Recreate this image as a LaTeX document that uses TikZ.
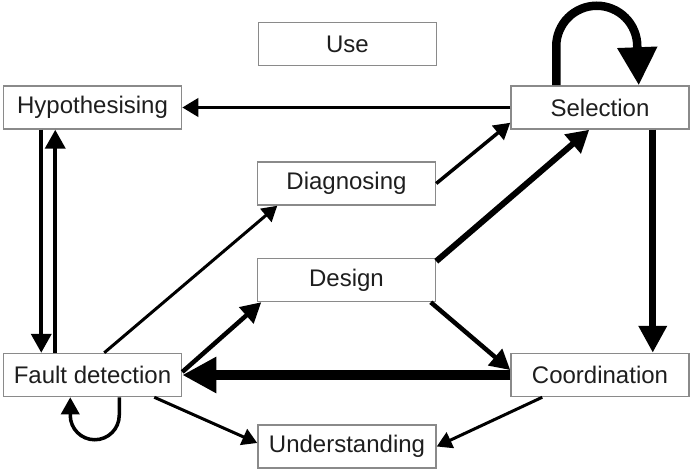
\documentclass[tikz,border=0pt]{standalone}
\usepackage{fontspec}
\setmainfont{Liberation Sans}
\usetikzlibrary{arrows.meta}
\definecolor{boxgray}{HTML}{8A8A8A}
\definecolor{txt}{HTML}{1E1E1E}
\begin{document}
\begin{tikzpicture}[x=1pt,y=-1pt,
  box/.style={draw=boxgray, line width=1.5pt, fill=white, minimum width=178pt, minimum height=43pt,
    inner sep=0pt, text=txt, font=\fontsize{24}{28}\selectfont},
  conn/.style={draw=black, line join=miter},
  ha/.style={-{Triangle[length=16pt,width=18pt]}, line width=3.5pt},
  hb/.style={-{Triangle[length=19pt,width=20pt]}, line width=4pt},
  hc/.style={-{Triangle[length=15pt,width=17pt]}, line width=3pt},
  hd/.style={-{Triangle[length=22pt,width=24pt]}, line width=6pt},
  he/.style={-{Triangle[length=20pt,width=21pt]}, line width=4.5pt},
  hf/.style={-{Triangle[length=34pt,width=34pt]}, line width=10pt},
  hg/.style={-{Triangle[length=27pt,width=27pt]}, line width=7pt},
  hh/.style={-{Triangle[length=38pt,width=38pt]}, line width=8.5pt},
]
\useasboundingbox (0,0) rectangle (693,473);

\node[box] (use)   at (347.5,44)   {Use};
\node[box] (hyp)   at (92.5,107.5) {Hypothesising};
\node[box] (sel)   at (600,107.5)  {Selection};
\node[box] (diag)  at (346.5,183.5){Diagnosing};
\node[box] (des)   at (346.5,280)  {Design};
\node[box] (fd)    at (92.5,375)   {Fault detection};
\node[box] (coord) at (600,375)    {Coordination};
\node[box] (und)   at (347,446.5)  {Understanding};

% Selection -> Hypothesising
\draw[conn,ha] (sel.west) -- (hyp.east);
% Hypothesising <-> Fault detection
\draw[conn,hb] ([xshift=38.5pt]hyp.south west) -- ([xshift=38.5pt]fd.north west);
\draw[conn,hb] ([xshift=52.5pt]fd.north west) -- ([xshift=52.5pt]hyp.south west);
% Fault detection -> Diagnosing
\draw[conn,hc] ([xshift=101.5pt]fd.north west) -- ([xshift=20.5pt]diag.south west);
% Diagnosing -> Selection
\draw[conn,ha] (diag.east) -- ([yshift=7pt]sel.south west);
% Design -> Selection
\draw[conn,hd] ([yshift=-3.5pt]des.north east) -- ([xshift=79pt]sel.south west);
% Fault detection -> Design
\draw[conn,he] ([yshift=3pt]fd.east) -- ([xshift=4.5pt]des.south west);
% Design -> Coordination
\draw[conn,he] ([xshift=-5.5pt]des.south east) -- ([yshift=5pt]coord.west);
% Coordination -> Fault detection
\draw[conn,hf] (coord.west) -- (fd.east);
% Selection -> Coordination
\draw[conn,hg] ([xshift=-37pt]sel.south east) -- ([xshift=-37pt]coord.north east);
% Selection self loop
\draw[conn,hh] ([xshift=46pt]sel.north west) -- ++(0,-39)
  arc[start angle=180,end angle=360,radius=40.5] -- ([xshift=-51pt]sel.north east);
% Fault detection self loop
\draw[conn,-{Triangle[length=17pt,width=18pt]}, line width=3.5pt]
  ([xshift=116.5pt]fd.south west) -- ++(0,18)
  arc[start angle=0,end angle=180,radius=24.5] -- ([xshift=67.5pt]fd.south west);
% Fault detection -> Understanding
\draw[conn,hc] ([xshift=151.5pt]fd.south west) -- ([yshift=3.5pt]und.west);
% Coordination -> Understanding
\draw[conn,hc] ([xshift=32pt]coord.south west) -- (und.east);
\end{tikzpicture}
\end{document}
